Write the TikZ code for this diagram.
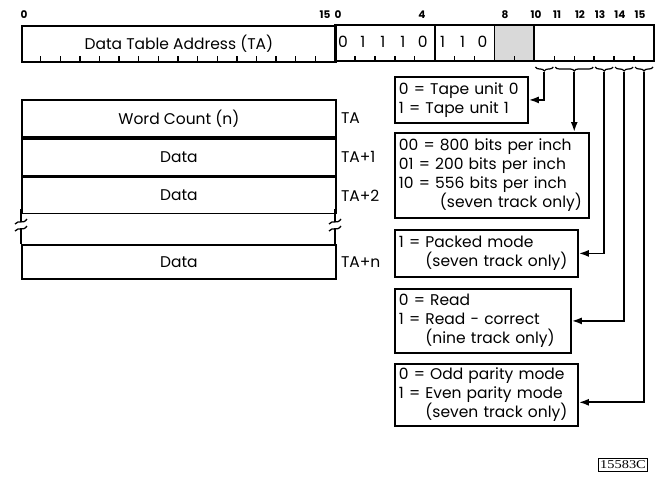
\documentclass[tikz,border=0pt]{standalone}
\usepackage{fontspec}
\setmainfont{Poppins}
\newfontfamily\stampfont{Liberation Serif}
\usetikzlibrary{arrows.meta,decorations.pathreplacing}

\begin{document}
\begin{tikzpicture}[x=1pt, y=-1pt, line width=1.8pt,
    every node/.style={font=\fontsize{15.5}{19}\selectfont},
    bitnum/.style={font=\bfseries\fontsize{10.5}{10.5}\selectfont},
    cell/.style={draw, minimum width=314, inner sep=0pt, anchor=north west},
    infobox/.style={draw, anchor=north west, align=left, inner sep=4pt},
    feed/.style={-{Latex[length=10pt,width=7pt]}},
    bitbrace/.style={line width=1.2pt, decorate, decoration={brace, mirror, amplitude=4pt}},
    tick/.style={line width=1.4pt}]
    \useasboundingbox (0,0) rectangle (660,479);

    % Bit numbers
    \node[bitnum] (a0) at (24,15) {0};
    \node[bitnum] (a15) at (325,15) {15};
    \foreach \n/\x in {0/338, 4/422, 8/505, 10/536, 11/557, 12/580, 13/600, 14/620, 15/640}
        \node[bitnum] (c\n) at (\x,15) {\n};

    % Data table address word
    \node[cell, minimum height=36] (addr) at (21,25) {Data Table Address (TA)};
    \foreach \i in {1,...,15}
        \draw[tick] (21+\i*19.625,61) -- ++(0,-5);

    % Command word
    \fill[gray!30] (494.5,25) rectangle (534.4,61);
    \draw (335,25) rectangle (654,61);
    \foreach \i in {5,8,10}
        \draw (335+\i*19.9375,25) -- ++(0,36);
    \foreach \i in {1,2,3,4,6,7,9,11,12,13,14,15}
        \draw[tick] (335+\i*19.9375,61) -- ++(0,-5);
    \foreach \b [count=\i from 0] in {0,1,1,1,0,1,1,0}
        \node (d\i) at (335+\i*19.9375+8,42) {\b};

    % Braces under bits 10 to 15
    \foreach \name/\a/\b in {t10/534.4/554.3, t11/554.3/594.2, t13/594.2/614.1, t14/614.1/634.1, t15/634.1/654} {
        \draw[bitbrace] (\a+1,67) -- (\b-1,67);
        \coordinate (\name) at ({(\a+\b)/2},72);
    }

    % Option boxes
    \node[infobox, text width=125, minimum height=46] (unit) at (394,76)
        {0 = Tape unit 0\\1 = Tape unit 1};
    \node[infobox, text width=186, minimum height=85] (density) at (394,132)
        {00 = 800 bits per inch\\01 = 200 bits per inch\\10 = 556 bits per inch\\\phantom{00 = }(seven track only)};
    \node[infobox, text width=175, minimum height=47] (packed) at (394,229)
        {1 = Packed mode\\\phantom{1 = }(seven track only)};
    \node[infobox, text width=168, minimum height=64] (rdmode) at (394,288)
        {0 = Read\\1 = Read - correct\\\phantom{1 = }(nine track only)};
    \node[infobox, text width=175, minimum height=55] (parity) at (394,363)
        {0 = Odd parity mode\\1 = Even parity mode\\\phantom{1 = }(seven track only)};

    % Connectors
    \draw[feed] (t10) |- (unit.east);
    \draw[feed] (t11) -- (t11 |- density.north);
    \draw[feed] (t13) |- (packed.east);
    \draw[feed] (t14) |- (rdmode.east);
    \draw[feed] (t15) |- ([yshift=-7.5pt]parity.east);

    % Data table
    \node[cell, minimum height=37] (wc) at (21,99) {Word Count (n)};
    \node[cell, minimum height=37] (data1) at (wc.south west) {Data};
    \node[cell, minimum height=36] (data2) at (data1.south west) {Data};
    \node[cell, minimum height=34] (datan) at (21,244) {Data};
    \node[anchor=west] (ta0) at (wc.east) {TA};
    \node[anchor=west] (ta1) at (data1.east) {TA+1};
    \node[anchor=west] (ta2) at (data2.east) {TA+2};
    \node[anchor=west] (tan) at (datan.east) {TA+n};

    % Break in the table
    \foreach \x in {21,335} {
        \draw (\x,209) -- (\x,222);
        \draw (\x,229) -- (\x,244);
        \draw[line width=1.3pt] (\x-6,224) .. controls (\x-2,219) and (\x+2,225) .. (\x+6,219);
        \draw[line width=1.3pt] (\x-6,231) .. controls (\x-2,226) and (\x+2,232) .. (\x+6,226);
    }

    % Drawing number
    \node[draw, line width=1pt, inner sep=2pt, font=\stampfont\fontsize{12}{12}\selectfont] (stamp) at (623,465)
        {\scalebox{1.2}[1]{15583C}};
\end{tikzpicture}
\end{document}
